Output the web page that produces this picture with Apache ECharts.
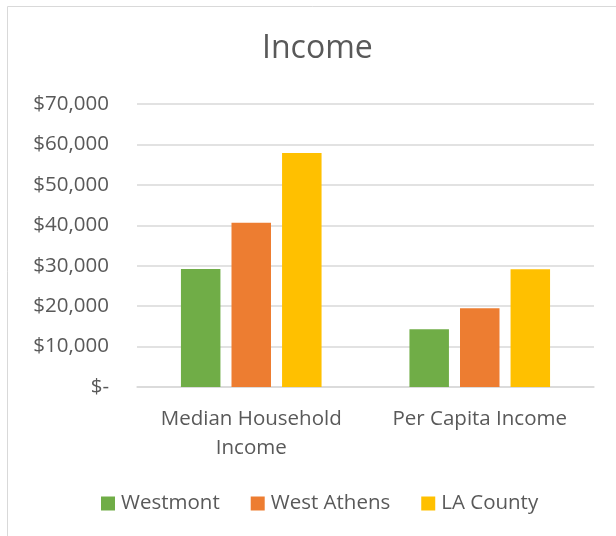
<!DOCTYPE html>
<html><head><meta charset="utf-8">
<script src="https://cdn.jsdelivr.net/npm/echarts@6/dist/echarts.min.js"></script>
<style>html,body{margin:0;padding:0;background:#fff}#c{width:616px;height:536px}</style>
</head><body><div id="c"></div>
<script>
const categories = ['Median Household\nIncome', 'Per Capita Income'];
const westmont = [29200, 14300];
const westAthens = [40600, 19500];
const laCounty = [57900, 29100];
const seriesNames = ['Westmont', 'West Athens', 'LA County'];
const colors = ['#70ad47', '#ed7d31', '#ffc000'];
const font = '"Open Sans", "Liberation Sans", sans-serif';
const txt = '#595959';
const chart = echarts.init(document.getElementById('c'), null, {renderer: 'canvas'});
const mk = (name, data, color) => ({
  name, type: 'bar', data, barWidth: 39.5, barGap: '28%',
  itemStyle: {color}
});
chart.setOption({
  animation: false,
  title: {text: 'Income', left: 257, top: 28,
    textStyle: {fontFamily: font, fontSize: 32, fontWeight: 'normal', color: txt}},
  graphic: [{type: 'rect', shape: {x: 7.5, y: 6.5, width: 700, height: 700},
    style: {fill: 'none', stroke: '#d9d9d9', lineWidth: 1}}],
  grid: {left: 137, right: 22, top: 104, bottom: 149},
  legend: {bottom: 17, left: 96, itemWidth: 14, itemHeight: 14, itemGap: 31,
    icon: 'rect', textStyle: {fontFamily: font, fontSize: 20.5, color: txt, padding: [0, 0, 0, 1]},
    data: seriesNames},
  xAxis: {type: 'category', data: categories,
    axisLine: {lineStyle: {color: '#d9d9d9', width: 1.5}}, axisTick: {show: false},
    axisLabel: {fontFamily: font, fontSize: 20.5, color: txt, lineHeight: 29, margin: 18,
      interval: 0, hideOverlap: false}},
  yAxis: {type: 'value', min: 0, max: 70000, interval: 10000,
    axisLine: {show: false}, axisTick: {show: false},
    splitLine: {lineStyle: {color: '#d9d9d9', width: 1.5}},
    axisLabel: {fontFamily: font, fontSize: 20.5, color: txt, margin: 28,
      formatter: v => v === 0 ? '$-' : '$' + v.toLocaleString('en-US')}},
  series: [mk(seriesNames[0], westmont, colors[0]), mk(seriesNames[1], westAthens, colors[1]), mk(seriesNames[2], laCounty, colors[2])]
});
</script></body></html>
